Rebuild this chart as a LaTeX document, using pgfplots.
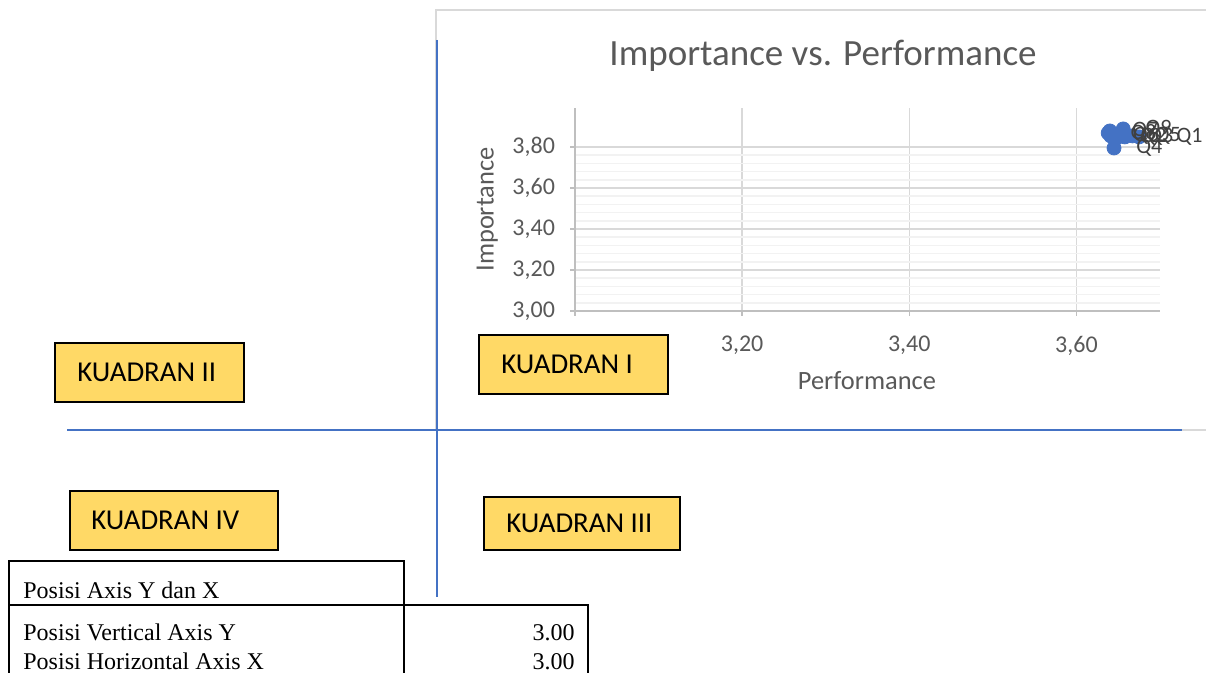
\documentclass[border=0pt]{standalone}
\usepackage{fontspec}
\setmainfont{Carlito}
\newfontfamily\tnr{Liberation Serif}
\usepackage{pgfplots}
\usepackage{pgfplotstable}
\pgfplotsset{compat=1.18}
\definecolor{xlblue}{HTML}{4472C4}
\definecolor{txtgray}{HTML}{595959}
\definecolor{labgray}{HTML}{404040}
\definecolor{gridmaj}{HTML}{D9D9D9}
\definecolor{gridmin}{HTML}{F2F2F2}
\definecolor{axgray}{HTML}{BFBFBF}
\definecolor{kgold}{HTML}{FFD966}
\definecolor{framegray}{HTML}{D9D9D9}

\pgfplotstableread{
x     y     label dx
3.675 3.849 Q1    18.5
3.650 3.849 Q2    11
3.658 3.849 Q3    11
3.645 3.795 Q4    11
3.667 3.854 Q5    11
3.641 3.854 Q6    11
3.640 3.878 Q7    11
3.638 3.868 Q8    11
3.656 3.888 Q9    11
}\ipadata

\begin{document}
\begin{tikzpicture}
\path[use as bounding box] (0pt,0pt) rectangle (603pt,-336.5pt);
\begin{scope}[x=0.5pt,y=-0.5pt]
  \fill[white] (0,0) rectangle (1206,673);
  \draw[framegray, line width=1pt] (1240,10) -- (436,10) -- (436,430) -- (1240,430);
\end{scope}
\begin{axis}[
  at={(287.5pt,-155.5pt)}, anchor=south west,
  scale only axis, width=292.5pt, height=101.5pt,
  xmin=3, xmax=3.70, ymin=3, ymax=3.99,
  xtick={3,3.2,3.4,3.6}, ytick={3,3.2,3.4,3.6,3.8},
  minor y tick num=4,
  xmajorgrids, ymajorgrids, yminorgrids,
  major grid style={draw=gridmaj, line width=0.75pt},
  minor grid style={draw=gridmin, line width=0.75pt},
  axis x line=bottom, axis y line=left,
  axis line style={-, draw=axgray, line width=0.75pt},
  tick align=outside, major tick length=2.5pt, minor tick length=0pt,
  tick style={draw=axgray, line width=0.75pt},
  xticklabel shift=6.5pt, yticklabel shift=4pt,
  /pgf/number format/.cd, fixed, fixed zerofill, precision=2, use comma, assume math mode=true,
  /pgfplots/.cd,
  tick label style={font=\fontsize{12}{14}\selectfont, text=txtgray},
  title={Importance vs. Performance},
  title style={at={(axis description cs:0.424,1.197)}, anchor=center, font=\fontsize{18.5}{22}\selectfont, text=txtgray},
  xlabel={Performance},
  xlabel style={at={(axis description cs:0.499,-0.345)}, anchor=center, font=\fontsize{13.2}{16}\selectfont, text=txtgray},
  ylabel={Importance},
  ylabel style={at={(axis description cs:-0.150,0.5)}, anchor=center, font=\fontsize{13.2}{16}\selectfont, text=txtgray},
  clip=false,
]
\addplot[only marks, mark=*, mark size=3.5pt, color=xlblue,
  nodes near coords, point meta=explicit symbolic,
  visualization depends on={\thisrow{dx} \as \labdx},
  every node near coord/.append style={anchor=west, inner sep=0pt, xshift={\labdx*1pt},
    font=\fontsize{11}{13}\selectfont, text=labgray}]
  table[x=x, y=y, meta=label] {\ipadata};
\end{axis}
\begin{scope}[x=0.5pt,y=-0.5pt]
  % quadrant lines
  \draw[xlblue, line width=1.3pt] (437,40) -- (437,597);
  \draw[xlblue, line width=1.3pt] (67,430) -- (1182,430);
  % quadrant boxes
  \begin{scope}[every node/.style={anchor=west, inner sep=0pt, font=\fontsize{14.4}{17}\selectfont, text=black}]
    \draw[fill=kgold, draw=black, line width=0.6pt] (55,343) rectangle (244,402);
    \node at (77,372.5) {KUADRAN II};
    \draw[fill=kgold, draw=black, line width=0.6pt] (479,335) rectangle (668,394);
    \node at (501,364.5) {KUADRAN I};
    \draw[fill=kgold, draw=black, line width=0.6pt] (70,491) rectangle (278,550);
    \node at (91,520.5) {KUADRAN IV};
    \draw[fill=kgold, draw=black, line width=0.6pt] (484,497) rectangle (680,550);
    \node at (506,523.5) {KUADRAN III};
  \end{scope}
  % table
  \draw[black, line width=0.9pt] (9,680) -- (9,561) -- (404,561) -- (404,680);
  \draw[black, line width=0.9pt] (9,605) -- (588,605) -- (588,680);
  \begin{scope}[every node/.style={inner sep=0pt, font=\tnr\fontsize{12}{14}\selectfont, text=black}]
    \node[anchor=base west] at (23,599) {Posisi Axis Y dan X};
    \node[anchor=base west] at (23,641) {Posisi Vertical Axis Y};
    \node[anchor=base west] at (23,669) {Posisi Horizontal Axis X};
    \node[anchor=base east] at (575,641) {3.00};
    \node[anchor=base east] at (575,669) {3.00};
  \end{scope}
\end{scope}
\end{tikzpicture}
\end{document}
